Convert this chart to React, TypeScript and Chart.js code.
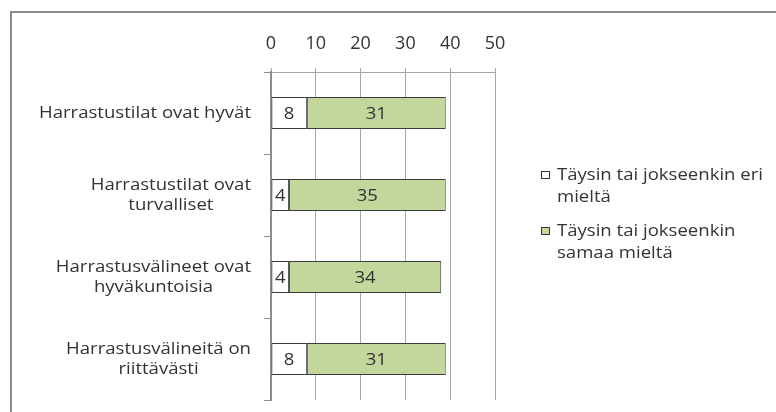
import React, { useEffect, useRef } from 'react';
import { Chart, registerables } from 'chart.js';

Chart.register(...registerables);

// ---- data ----
const categories: string[][] = [
  ['Harrastustilat ovat hyvät'],
  ['Harrastustilat ovat', 'turvalliset'],
  ['Harrastusvälineet ovat', 'hyväkuntoisia'],
  ['Harrastusvälineitä on', 'riittävästi'],
];
const seriesNames: string[][] = [
  ['Täysin tai jokseenkin eri', 'mieltä'],
  ['Täysin tai jokseenkin', 'samaa mieltä'],
];
const disagree = [8, 4, 4, 8];
const agree = [31, 35, 34, 31];
const xTickValues = [0, 10, 20, 30, 40, 50];
const seriesColors = ['#ffffff', '#c3d69b'];

const FONT = '"Open Sans", "Liberation Sans", sans-serif';
const TEXT = '#333333';
const SX = 1.16; // horizontal stretch of the text, as in the reference

function drawText(ctx: any, text: string, x: number, y: number, align: 'left' | 'center' | 'right') {
  ctx.save();
  ctx.translate(x, y);
  ctx.scale(SX, 1);
  ctx.textAlign = align;
  ctx.fillText(text, 0, 0);
  ctx.restore();
}

const customDraw = {
  id: 'customDraw',
  beforeDraw(chart: any) {
    const ctx = chart.ctx;
    ctx.save();
    ctx.strokeStyle = '#8c8c8c';
    ctx.lineWidth = 2;
    ctx.beginPath();
    ctx.moveTo(11, 412);
    ctx.lineTo(11, 12);
    ctx.lineTo(776, 12);
    ctx.stroke();
    ctx.restore();
  },
  afterDatasetsDraw(chart: any) {
    const ctx = chart.ctx;
    ctx.save();
    ctx.fillStyle = TEXT;
    ctx.textBaseline = 'middle';
    ctx.font = `16px ${FONT}`;
    // value labels
    chart.data.datasets.forEach((ds: any, di: number) => {
      const meta = chart.getDatasetMeta(di);
      meta.data.forEach((bar: any, i: number) => {
        const p = bar.getProps(['x', 'y', 'base'], true);
        drawText(ctx, String(ds.data[i]), (p.x + p.base) / 2, p.y + 1, 'center');
      });
    });
    // category labels: block right-aligned, lines centred within the block
    const yScale = chart.scales.y;
    const right = 251;
    const lh = 20;
    categories.forEach((lines, i) => {
      const cy = yScale.getPixelForValue(i);
      const maxW = Math.max(...lines.map((l) => ctx.measureText(l).width)) * SX;
      const cx = right - maxW / 2;
      lines.forEach((l, j) => {
        drawText(ctx, l, cx, cy + (j - (lines.length - 1) / 2) * lh, 'center');
      });
    });
    // legend
    const legendTops = [175, 231];
    seriesNames.forEach((lines, i) => {
      const y0 = legendTops[i];
      ctx.fillStyle = seriesColors[i];
      ctx.fillRect(541, y0 - 4, 8, 7);
      ctx.strokeStyle = '#333';
      ctx.lineWidth = 1;
      ctx.strokeRect(541.5, y0 - 3.5, 8, 7);
      ctx.fillStyle = TEXT;
      lines.forEach((l, j) => drawText(ctx, l, 557, y0 + j * 22, 'left'));
    });
    ctx.restore();
  },
};

export default function App() {
  const ref = useRef<HTMLCanvasElement | null>(null);
  useEffect(() => {
    if (!ref.current) return;
    const chart = new Chart(ref.current, {
      type: 'bar',
      data: {
        labels: categories,
        datasets: [
          {
            label: seriesNames[0].join(' '),
            data: disagree,
            backgroundColor: seriesColors[0],
            borderColor: '#3a3a3a',
            borderWidth: 1,
            borderSkipped: false,
          },
          {
            label: seriesNames[1].join(' '),
            data: agree,
            backgroundColor: seriesColors[1],
            borderColor: '#3a3a3a',
            borderWidth: 1,
            borderSkipped: false,
          },
        ],
      },
      options: {
        indexAxis: 'y',
        animation: false,
        responsive: false,
        layout: { padding: { left: 0, right: 281, top: 0, bottom: 12 } },
        datasets: { bar: { barPercentage: 0.39, categoryPercentage: 1 } },
        plugins: { legend: { display: false }, tooltip: { enabled: false } },
        scales: {
          x: {
            position: 'top',
            stacked: true,
            min: 0,
            max: 50,
            afterBuildTicks: (scale: any) => {
              scale.ticks = xTickValues.map((v) => ({ value: v }));
            },
            afterFit: (scale: any) => {
              scale.height = 72;
            },
            ticks: {
              font: { size: 18, family: FONT },
              color: TEXT,
              padding: 13,
            },
            grid: { color: '#a6a6a6', tickLength: 4, lineWidth: 1 },
            border: { color: '#a6a6a6' },
          },
          y: {
            stacked: true,
            afterFit: (scale: any) => {
              scale.width = 271;
            },
            ticks: { display: false },
            grid: { offset: true, drawOnChartArea: false, tickLength: 7, color: '#8c8c8c' },
            border: { color: '#8c8c8c', width: 2 },
          },
        },
      },
      plugins: [customDraw],
    } as any);
    return () => chart.destroy();
  }, []);
  return (
    <div style={{ position: 'absolute', left: 0, top: 0, width: 776, height: 412, background: '#fff' }}>
      <canvas ref={ref} width={776} height={412} style={{ display: 'block' }} />
    </div>
  );
}
